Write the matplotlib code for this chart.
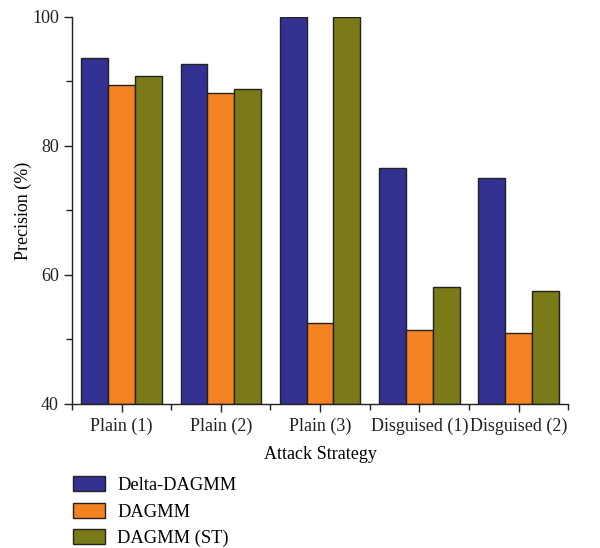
import numpy as np
import matplotlib
matplotlib.use("Agg")
from matplotlib import pyplot as plt
from matplotlib.ticker import MultipleLocator, FixedLocator

categories = ["Plain (1)", "Plain (2)", "Plain (3)", "Disguised (1)", "Disguised (2)"]
delta_dagmm = [93.6, 92.7, 100.0, 76.6, 75.0]
dagmm = [89.5, 88.2, 52.6, 51.5, 51.0]
dagmm_st = [90.8, 88.9, 100.0, 58.2, 57.5]
series_names = ["Delta-DAGMM", "DAGMM", "DAGMM (ST)"]
colors = ["#333191", "#F58220", "#7A7A18"]

plt.rcParams["font.family"] = ["Liberation Serif", "DejaVu Serif"]

fig = plt.figure(figsize=(6.0, 5.48), dpi=100)
ax = fig.add_axes([0.12, 0.2628, 0.827, 0.7062])

x = np.arange(len(categories))
w = 0.27
for i, (vals, name, c) in enumerate(zip([delta_dagmm, dagmm, dagmm_st], series_names, colors)):
    ax.bar(x + (i - 1) * w, np.array(vals) - 40, bottom=40, width=w, color=c,
           edgecolor="#222222", linewidth=1.0, label=name, zorder=2)

ax.set_xlim(-0.5, len(categories) - 0.5)
ax.set_ylim(40, 100)
ax.set_xticks(x)
ax.set_xticklabels(categories)
ax.xaxis.set_minor_locator(FixedLocator(np.arange(-0.5, len(categories), 1.0)))
ax.yaxis.set_major_locator(MultipleLocator(20))
ax.yaxis.set_minor_locator(MultipleLocator(10))

for s in ["top", "right"]:
    ax.spines[s].set_visible(False)
for s in ["left", "bottom"]:
    ax.spines[s].set_linewidth(1.0)
    ax.spines[s].set_color("#222222")

ax.tick_params(axis="both", which="major", length=6, width=1.0, labelsize=13, colors="#222222")
ax.tick_params(axis="both", which="minor", length=4, width=1.0, colors="#222222")
ax.tick_params(axis="x", which="major", pad=4)

ax.set_ylabel("Precision (%)", fontsize=13, labelpad=0)
ax.set_xlabel("Attack Strategy", fontsize=13, labelpad=8)

fig.legend(loc="upper left", bbox_to_anchor=(0.122, 0.1315), frameon=False,
           fontsize=13.3, handlelength=1.73, handleheight=0.87, labelspacing=0.48,
           handletextpad=0.65, borderaxespad=0, borderpad=0)

fig.savefig("out.png", dpi=100)
